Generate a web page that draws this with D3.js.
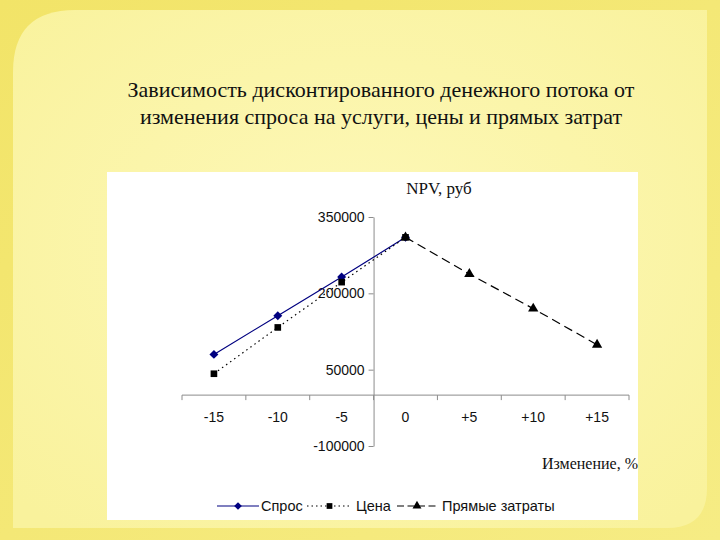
<!DOCTYPE html>
<html><head><meta charset="utf-8">
<script src="https://cdn.jsdelivr.net/npm/d3@7"></script>
<style>html,body{margin:0;padding:0;background:#f3e56c;}svg{display:block;}</style>
</head><body>
<svg id="c" width="720" height="540"></svg>
<script>
const categories = ["-15","-10","-5","0","+5","+10","+15"];
const demand = [80000, 156000, 232000, 310000, null, null, null];
const price = [42000, 133000, 222000, 310000, null, null, null];
const directCosts = [null, null, null, 310000, 238000, 170000, 99000];
const yTicks = [-100000, 50000, 200000, 350000];
const titleLines = ["Зависимость дисконтированного денежного потока от", "изменения спроса на услуги, цены и прямых затрат"];
const seriesNames = ["Спрос", "Цена", "Прямые затраты"];

const svg = d3.select("#c");
const defs = svg.append("defs");
const rg = defs.append("radialGradient").attr("id","pg").attr("cx","50%").attr("cy","45%").attr("r","70%");
rg.append("stop").attr("offset","0%").attr("stop-color","#fdf8b8");
rg.append("stop").attr("offset","100%").attr("stop-color","#f9f29c");
const og = defs.append("linearGradient").attr("id","og").attr("x1","0").attr("y1","0").attr("x2","1").attr("y2","1");
og.append("stop").attr("offset","0%").attr("stop-color","#f2e468");
og.append("stop").attr("offset","100%").attr("stop-color","#f6ec84");
svg.append("rect").attr("width",720).attr("height",540).attr("fill","url(#og)");
svg.append("path").attr("fill","url(#pg)")
  .attr("d","M13,72 Q13,10 75,10 L707,10 L707,488 Q707,528 667,528 L13,528 Z");

// title
svg.append("g").selectAll("text").data(titleLines).join("text")
  .attr("x",381).attr("y",(d,i)=>97+i*27).attr("text-anchor","middle")
  .attr("font-family","Liberation Serif, serif").attr("font-size",22).attr("fill","#111")
  .text(d=>d);

// chart area
svg.append("rect").attr("x",107).attr("y",172).attr("width",531).attr("height",348).attr("fill","#fff");

const x = d3.scaleBand().domain(categories).range([182,629]).padding(0);
const y = d3.scaleLinear().domain([-100000,350000]).range([446,217]);
const cx = c => x(c) + x.bandwidth()/2;
const axisColor = "#8c8c8c";
const sans = "Liberation Sans, Arial, sans-serif";

// x axis at y=0
const xAxis = d3.axisBottom(x).tickSize(0).tickPadding(17);
const gx = svg.append("g").attr("transform",`translate(0,${y(0)})`).call(xAxis);
gx.select(".domain").attr("stroke",axisColor).attr("d",`M182,0H629`);
gx.selectAll("text").attr("font-family",sans).attr("font-size",14).attr("fill","#111");
const bounds = categories.map(c=>x(c)).concat([x(categories[categories.length-1])+x.bandwidth()]);
gx.selectAll("line.bt").data(bounds).join("line").attr("class","bt")
  .attr("x1",d=>d).attr("x2",d=>d).attr("y1",0).attr("y2",5).attr("stroke",axisColor);

// y axis crossing between "-5" and "0"
const yx = x("0");
const yAxis = d3.axisLeft(y).tickValues(yTicks).tickFormat(d=>String(d)).tickSize(5).tickPadding(4).tickSizeOuter(0);
const gy = svg.append("g").attr("transform",`translate(${yx},0)`).call(yAxis);
gy.select(".domain").attr("stroke",axisColor);
gy.selectAll(".tick line").attr("stroke",axisColor);
gy.selectAll("text").attr("font-family",sans).attr("font-size",14).attr("fill","#111");

// axis titles
svg.append("text").attr("x",439).attr("y",194).attr("text-anchor","middle")
  .attr("font-family","Liberation Serif, serif").attr("font-size",17).attr("fill","#111").text("NPV, руб");
svg.append("text").attr("x",638).attr("y",469).attr("text-anchor","end")
  .attr("font-family","Liberation Serif, serif").attr("font-size",16).attr("fill","#111").text("Изменение, %");

const series = [
  {name:seriesNames[0], values:demand, color:"#000080", dash:null, legendDash:null, marker:"diamond"},
  {name:seriesNames[1], values:price, color:"#000", dash:"1.5,3.5", legendDash:"1.5,3", marker:"square"},
  {name:seriesNames[2], values:directCosts, color:"#000", dash:"9,5", legendDash:"7,3.5", marker:"triangle"}
];
const squareDiamond = {draw(ctx, size){const r=Math.sqrt(size/2); ctx.moveTo(0,-r); ctx.lineTo(r,0); ctx.lineTo(0,r); ctx.lineTo(-r,0); ctx.closePath();}};
const symType = {diamond:squareDiamond, square:d3.symbolSquare, triangle:d3.symbolTriangle};
const symSize = {diamond:40, square:44, triangle:46};
const line = d3.line().defined(d=>d.v!=null).x(d=>cx(d.c)).y(d=>y(d.v));

series.forEach(s=>{
  const pts = categories.map((c,i)=>({c, v:s.values[i]}));
  svg.append("path").datum(pts).attr("d",line).attr("fill","none")
    .attr("stroke",s.color).attr("stroke-width",1.2).attr("stroke-dasharray",s.dash);
  svg.append("g").selectAll("path").data(pts.filter(d=>d.v!=null)).join("path")
    .attr("transform",d=>`translate(${cx(d.c)},${y(d.v)})`)
    .attr("d",d3.symbol().type(symType[s.marker]).size(symSize[s.marker]))
    .attr("fill",s.color);
});

// legend
const legendPos = [{x0:217,x1:259,t:261},{x0:307,x1:352,t:356},{x0:397,x1:437,t:442}];
const lg = svg.append("g");
series.forEach((s,i)=>{
  const p = legendPos[i], ly = 506;
  lg.append("line").attr("x1",p.x0).attr("x2",p.x1).attr("y1",ly).attr("y2",ly)
    .attr("stroke",s.color).attr("stroke-width",1.2).attr("stroke-dasharray",s.legendDash);
  lg.append("path").attr("transform",`translate(${(p.x0+p.x1)/2},${ly})`)
    .attr("d",d3.symbol().type(symType[s.marker]).size(symSize[s.marker]*0.75)).attr("fill",s.color);
  lg.append("text").attr("x",p.t).attr("y",ly+5)
    .attr("font-family",sans).attr("font-size",14.5).attr("fill","#111").text(s.name);
});
</script>
</body></html>
